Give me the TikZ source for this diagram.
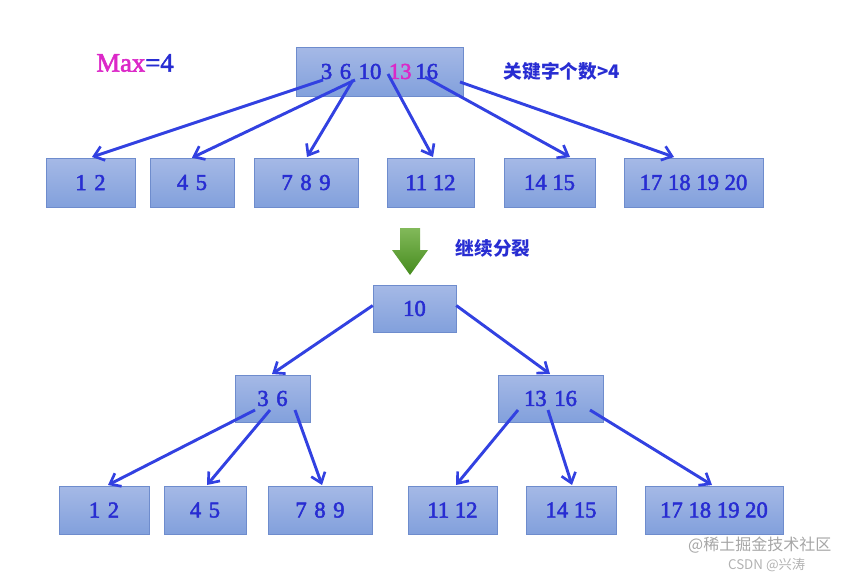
\documentclass[tikz,border=0pt]{standalone}
\usepackage{fontspec}
\setmainfont{Liberation Serif}[AutoFakeBold=2.2]
\newfontfamily\cjk{Noto Sans CJK SC}
\usetikzlibrary{arrows.meta}
\definecolor{txt}{RGB}{40,45,210}
\definecolor{bord}{RGB}{110,140,205}
\definecolor{ftop}{RGB}{165,185,230}
\definecolor{fbot}{RGB}{130,160,220}
\definecolor{arr}{RGB}{50,65,225}
\definecolor{mag}{RGB}{220,40,200}
\definecolor{gtop}{RGB}{130,185,90}
\definecolor{gbot}{RGB}{70,140,30}
\tikzset{
 kbox/.style={draw=bord,top color=ftop,bottom color=fbot,inner sep=0pt,font=\fontsize{17}{19}\selectfont\bfseries,text=txt},
 link/.style={draw=arr,line width=2.2pt,-{Straight Barb[length=7pt,width=11pt,line width=2pt]}}
}
\newcommand{\kb}[6]{\node[kbox,minimum width=#3*0.75pt-#2*0.75pt,minimum height=#5*0.75pt-#4*0.75pt] (#1) at ({(#2+#3)/2},{(#4+#5)/2}) {#6};}
\begin{document}
\begin{tikzpicture}[x=0.75pt,y=-0.75pt]
\useasboundingbox (0,0) rectangle (852,575);
\kb{top}{296}{463}{47}{96}{3\,\,6\,\,10\,\,\textcolor{mag}{13}\,16}
\kb{a1}{46}{135}{158}{207}{1\,\,2}
\kb{a2}{150}{234}{158}{207}{4\,\,5}
\kb{a3}{254}{358}{158}{207}{7\,\,8\,\,9}
\kb{a4}{387}{474}{158}{207}{11 12}
\kb{a5}{504}{595}{158}{207}{14 15}
\kb{a6}{624}{763}{158}{207}{17 18 19 20}
\node[font=\fontsize{20}{22}\selectfont\bfseries] (max) at (135,63) {\textcolor{mag}{Max}\textcolor{txt}{=4}};
\node[font=\cjk\bfseries\fontsize{14}{16}\selectfont,text=txt] (cond) at (562,71) {关键字个数>4};
\coordinate (t1) at (323,80); \coordinate (t2) at (355,80); \coordinate (t3) at (353,80);
\coordinate (t4) at (388,74); \coordinate (t5) at (425,77); \coordinate (t6) at (460,82);
\draw[link] (t1) -- (92,157);
\draw[link] (t2) -- (a2.north);
\draw[link] (t3) -- (307,157);
\draw[link] (t4) -- (433,157);
\draw[link] (t5) -- (570,157);
\draw[link] (t6) -- (674,157);
\shade[top color=gtop,bottom color=gbot] (400,228) -- (420,228) -- (420,250) -- (428,250) -- (410,275) -- (392,250) -- (400,250) -- cycle;
\node[font=\cjk\bfseries\fontsize{14}{16}\selectfont,text=txt] (split) at (493,248) {继续分裂};
\kb{r}{373}{456}{285}{332}{10}
\kb{b1}{235}{310}{375}{422}{3\,\,6}
\kb{b2}{498}{603}{375}{422}{13\,\,16}
\kb{c1}{59}{149}{486}{534}{1\,\,2}
\kb{c2}{164}{246}{486}{534}{4\,\,5}
\kb{c3}{268}{372}{486}{534}{7\,\,8\,\,9}
\kb{c4}{408}{497}{486}{534}{11 12}
\kb{c5}{526}{616}{486}{534}{14 15}
\kb{c6}{645}{783}{486}{534}{17 18 19 20}
\draw[link] (r.west) ++(0,-3) -- (272,374);
\draw[link] (r.east) ++(0,-3) -- (550,374);
\draw[link] (255,410) -- (108,485);
\draw[link] (270,410) -- (207,485);
\draw[link] (295,410) -- (322,485);
\draw[link] (518,410) -- (456,485);
\draw[link] (548,410) -- (572,485);
\draw[link] (590,410) -- (712,485);
\node[font=\cjk\fontsize{12}{14}\selectfont,text=gray!70,anchor=east] (wm) at (836,545) {@稀土掘金技术社区};
\node[font=\cjk\fontsize{10}{12}\selectfont,text=gray!60,anchor=east] (wm2) at (810,565) {CSDN @兴涛};
\end{tikzpicture}
\end{document}
